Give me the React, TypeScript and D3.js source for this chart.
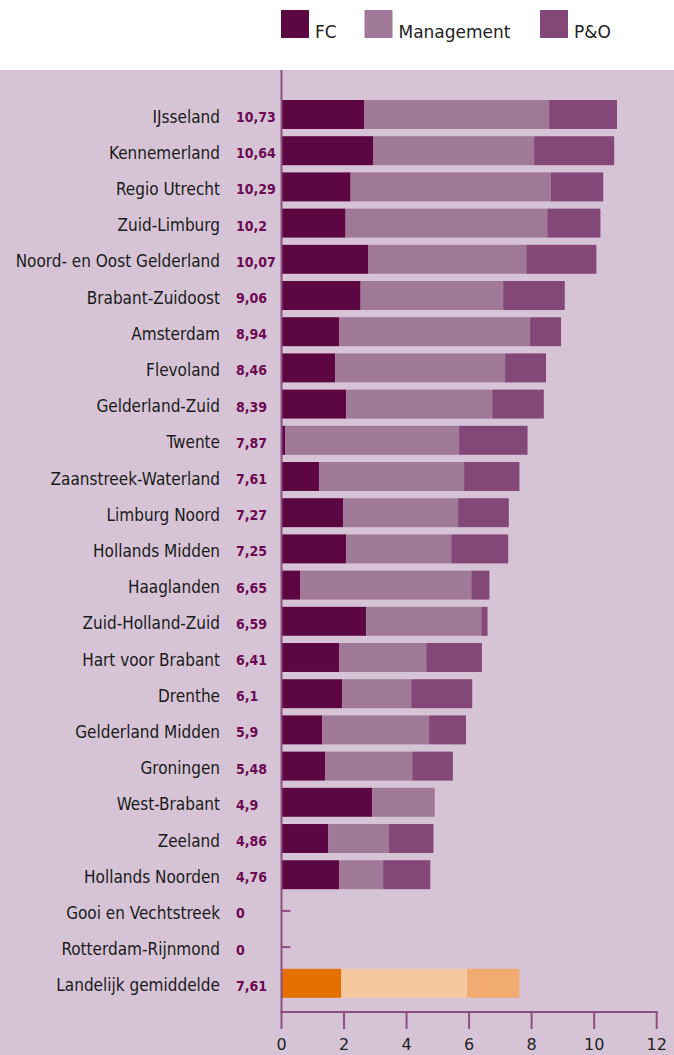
import React from "react";
import * as d3 from "d3";

const categories = [
  "IJsseland", "Kennemerland", "Regio Utrecht", "Zuid-Limburg", "Noord- en Oost Gelderland",
  "Brabant-Zuidoost", "Amsterdam", "Flevoland", "Gelderland-Zuid", "Twente",
  "Zaanstreek-Waterland", "Limburg Noord", "Hollands Midden", "Haaglanden", "Zuid-Holland-Zuid",
  "Hart voor Brabant", "Drenthe", "Gelderland Midden", "Groningen", "West-Brabant",
  "Zeeland", "Hollands Noorden", "Gooi en Vechtstreek", "Rotterdam-Rijnmond", "Landelijk gemiddelde",
];
const totals = ["10,73", "10,64", "10,29", "10,2", "10,07", "9,06", "8,94", "8,46", "8,39", "7,87",
  "7,61", "7,27", "7,25", "6,65", "6,59", "6,41", "6,1", "5,9", "5,48", "4,9", "4,86", "4,76", "0", "0", "7,61"];
const fc = [2.65, 2.94, 2.21, 2.05, 2.78, 2.53, 1.85, 1.72, 2.07, 0.12, 1.21, 1.97, 2.07, 0.60, 2.71,
  1.85, 1.94, 1.30, 1.40, 2.90, 1.49, 1.85, 0, 0, 1.91];
const management = [5.91, 5.14, 6.41, 6.45, 5.05, 4.56, 6.10, 5.43, 4.67, 5.56, 4.63, 3.68, 3.36, 5.47, 3.68,
  2.78, 2.21, 3.42, 2.78, 2.00, 1.95, 1.40, 0, 0, 4.03];
const po = [2.17, 2.56, 1.67, 1.70, 2.24, 1.97, 0.99, 1.31, 1.65, 2.19, 1.77, 1.62, 1.82, 0.58, 0.20,
  1.78, 1.95, 1.18, 1.30, 0, 1.42, 1.51, 0, 0, 1.67];
const seriesNames = ["FC", "Management", "P&O"];
const xTicks = [0, 2, 4, 6, 8, 10, 12];

const colors = ["#5c0642", "#a07898", "#834878"];
const avgColors = ["#e57000", "#f7c8a0", "#f1aa6f"];
const axisColor = "#8b4f82";

export default function App() {
  if (typeof document !== "undefined") document.body.style.margin = "0";
  const W = 674, H = 1055;
  const x = d3.scaleLinear().domain([0, 12]).range([281.5, 656.7]);
  const y = d3.scaleBand<string>().domain(categories).range([96.4, 1001.4]).paddingInner(0.2).paddingOuter(0.1);
  const rows = categories.map((c, i) => ({ c, vals: [fc[i], management[i], po[i]], total: totals[i] }));
  const stack = d3.stack<any>().keys(["0", "1", "2"]).value((d, k) => d.vals[+k]);
  const stacked = stack(rows);
  const axisY = 1012;
  const condensed = "'DejaVu Sans Condensed', 'DejaVu Sans', sans-serif";
  const sans = "'DejaVu Sans', sans-serif";
  return (
    <svg width={W} height={H} style={{ display: "block" }}>
      <rect x={0} y={70} width={W} height={H - 70} fill="#d6c4d6" />
      {/* legend */}
      {seriesNames.map((s, i) => {
        const lx = [281, 364.5, 540][i];
        return (
          <g key={s}>
            <rect x={lx} y={10} width={28} height={28} fill={colors[i]} />
            <text x={lx + 34} y={37.5} fontFamily={sans} fontSize={17} fill="#222">{s}</text>
          </g>
        );
      })}
      {/* y-axis ticks */}
      {categories.map((c) => (
        <line key={"t" + c} x1={x(0)} x2={x(0) + 9} y1={y(c)! + y.bandwidth() / 2} y2={y(c)! + y.bandwidth() / 2}
          stroke={axisColor} strokeWidth={2} />
      ))}
      {/* bars */}
      {stacked.map((layer, li) =>
        layer.map((d, ri) => {
          const c = categories[ri];
          const w = x(d[1]) - x(d[0]);
          if (w <= 0) return null;
          const isAvg = c === "Landelijk gemiddelde";
          return (
            <rect key={li + "-" + ri} x={x(d[0])} y={y(c)} width={w} height={y.bandwidth()}
              fill={isAvg ? avgColors[li] : colors[li]} />
          );
        })
      )}
      {/* axis lines */}
      <line x1={x(0)} x2={x(0)} y1={70} y2={axisY + 1} stroke={axisColor} strokeWidth={2} />
      <line x1={x(0) - 1} x2={x(12) + 1} y1={axisY} y2={axisY} stroke={axisColor} strokeWidth={2} />
      {xTicks.map((t) => (
        <g key={"x" + t}>
          <line x1={x(t)} x2={x(t)} y1={axisY} y2={1029} stroke={axisColor} strokeWidth={2} />
          <text x={x(t)} y={1050} textAnchor="middle" fontFamily={sans} fontSize={16} fill="#222">{t}</text>
        </g>
      ))}
      {/* labels */}
      {rows.map((r) => {
        const cy = y(r.c)! + y.bandwidth() / 2;
        return (
          <g key={"l" + r.c}>
            <text x={220} y={cy + 8} textAnchor="end" fontFamily={condensed} fontSize={17} fill="#1a1a1a">{r.c}</text>
            <text x={236} y={cy + 7.5} fontFamily={condensed} fontWeight="bold" fontSize={14} fill="#6b0a50">{r.total}</text>
          </g>
        );
      })}
    </svg>
  );
}
